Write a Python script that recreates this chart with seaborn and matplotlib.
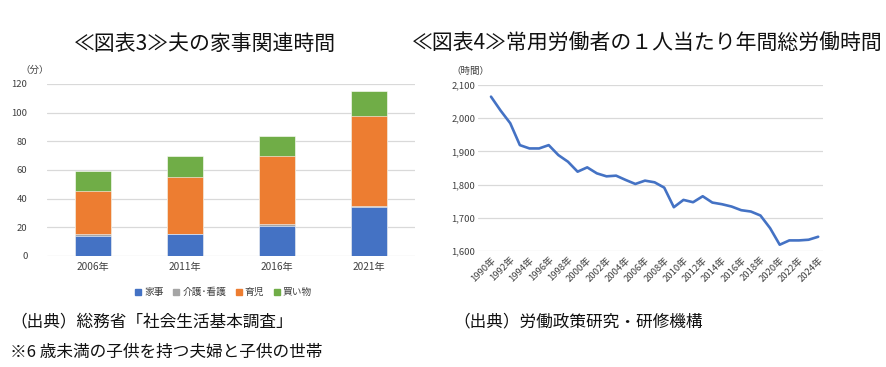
import numpy as np
import pandas as pd
import matplotlib
matplotlib.use("Agg")
import matplotlib.pyplot as plt
import seaborn as sns
from matplotlib.ticker import FuncFormatter

# 図表3 夫の家事関連時間 (分)
survey_years = ["2006年", "2011年", "2016年", "2021年"]
housework = [14, 15, 21, 34]
care = [1, 0, 1, 1]
childcare = [30, 40, 48, 63]
shopping = [14, 15, 14, 17]
series_names = ["家事", "介護･看護", "育児", "買い物"]
series_colors = ["#4472C4", "#A5A5A5", "#ED7D31", "#70AD47"]

# 図表4 常用労働者の1人当たり年間総労働時間
years = list(range(1990, 2025))
hours = [2065, 2023, 1985, 1919, 1909, 1909, 1919, 1889, 1869, 1839,
         1852, 1834, 1825, 1827, 1814, 1802, 1812, 1807, 1791, 1732,
         1754, 1747, 1765, 1746, 1741, 1734, 1723, 1719, 1707, 1669,
         1619, 1632, 1632, 1634, 1643]

sns.set_style("white")
plt.rcParams["font.family"] = ["Noto Sans CJK JP", "DejaVu Sans"]

TXT = "#404040"
GRID = "#D9D9D9"

fig = plt.figure(figsize=(8.86, 3.67), dpi=100)
ax1 = fig.add_axes([0.053, 0.3025, 0.4153, 0.4687])
ax2 = fig.add_axes([0.5395, 0.316, 0.3894, 0.4523])

# ---- left: stacked bars (cumulative layers, drawn from the top down)
stack = np.array([housework, care, childcare, shopping])
cum = np.cumsum(stack, axis=0)
for i in range(len(series_names) - 1, -1, -1):
    df = pd.DataFrame({"year": survey_years, "value": cum[i]})
    sns.barplot(data=df, x="year", y="value", color=series_colors[i],
                width=0.4, saturation=1, ax=ax1, zorder=3,
                edgecolor="white", linewidth=0.4)

ax1.set_ylim(0, 120)
ax1.set_xlim(-0.5, 3.5)
ax1.set_yticks(range(0, 121, 20))
ax1.grid(axis="y", color=GRID, linewidth=0.9, zorder=0)
ax1.set_xlabel("")
ax1.set_ylabel("")
ax1.tick_params(axis="both", length=0, labelsize=6.8, colors=TXT, pad=4)
ax1.tick_params(axis="x", labelsize=7.3)
ax1.tick_params(axis="y", pad=14)
for s in ax1.spines.values():
    s.set_visible(False)

handles = [plt.Rectangle((0, 0), 1, 1, color=c) for c in series_colors]
ax1.legend(handles, series_names, loc="upper center",
           bbox_to_anchor=(0.48, -0.13), ncol=4, frameon=False,
           fontsize=7, handlelength=0.6, handleheight=0.6,
           handletextpad=0.3, columnspacing=1.0, labelcolor=TXT)

# ---- right: line
df_h = pd.DataFrame({"year": years, "hours": hours})
sns.lineplot(data=df_h, x="year", y="hours", color="#4472C4",
             linewidth=1.9, ax=ax2, zorder=3)
ax2.set_ylim(1600, 2100)
ax2.set_xlim(1990 - 1.35, 2024 + 0.5)
ax2.set_yticks(range(1600, 2101, 100))
ax2.yaxis.set_major_formatter(FuncFormatter(lambda v, p: f"{int(v):,}"))
tick_years = years[::2]
ax2.set_xticks(tick_years)
ax2.set_xticklabels([f"{y}年" for y in tick_years], rotation=45,
                    ha="right", rotation_mode="anchor", fontsize=6.8)
ax2.grid(axis="y", color=GRID, linewidth=0.9, zorder=0)
ax2.set_xlabel("")
ax2.set_ylabel("")
ax2.tick_params(axis="both", length=0, colors=TXT)
ax2.tick_params(axis="y", labelsize=6.8, pad=2)
ax2.tick_params(axis="x", pad=3)
for s in ax2.spines.values():
    s.set_visible(False)

# ---- texts
fig.text(205 / 886, 1 - 44 / 367, "≪図表3≫夫の家事関連時間",
         ha="center", va="center", fontsize=15, color="#111111")
fig.text(647 / 886, 1 - 44 / 367, "≪図表4≫常用労働者の１人当たり年間総労働時間",
         ha="center", va="center", fontsize=15, color="#111111")
fig.text(35 / 886, 1 - 70 / 367, "（分）", ha="center", va="center",
         fontsize=6.8, color=TXT)
fig.text(470 / 886, 1 - 71 / 367, "（時間）", ha="center", va="center",
         fontsize=6.8, color=TXT)

fig.text(10 / 886, 1 - 322 / 367, "（出典）総務省「社会生活基本調査」",
         ha="left", va="center", fontsize=12, color="#111111")
fig.text(10 / 886, 1 - 352 / 367, "※6 歳未満の子供を持つ夫婦と子供の世帯",
         ha="left", va="center", fontsize=12, color="#111111")
fig.text(453 / 886, 1 - 322 / 367, "（出典）労働政策研究・研修機構",
         ha="left", va="center", fontsize=12, color="#111111")

fig.savefig("out.png", dpi=100, facecolor="white")
